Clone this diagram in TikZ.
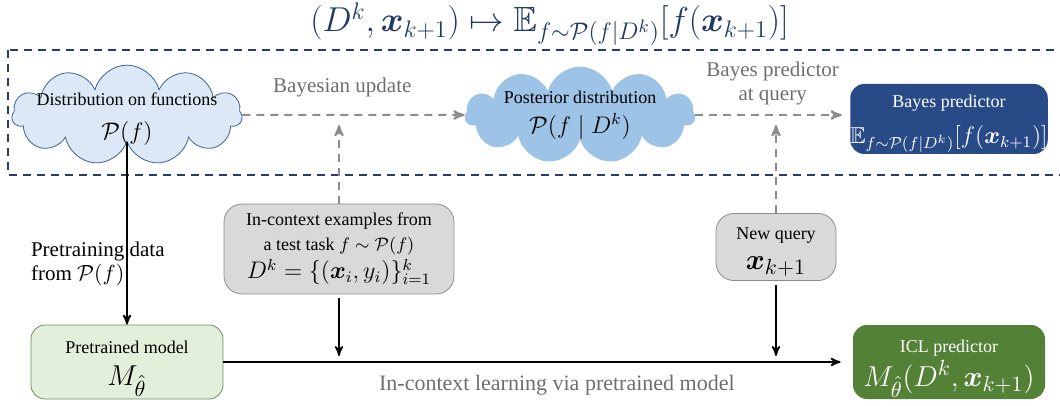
\documentclass[tikz,border=0pt]{standalone}
\usepackage{amsmath}
\usepackage{amssymb}
\usepackage[no-math]{fontspec}
\setmainfont{Liberation Serif}
\usepackage{tikz}
\usetikzlibrary{arrows}
\usetikzlibrary{shapes.symbols}
\usetikzlibrary{positioning,calc}
\definecolor{titlenavy}{RGB}{31,56,100}
\definecolor{boxnavy}{RGB}{40,74,134}
\definecolor{linenavy}{RGB}{38,62,108}
\definecolor{cloudlight}{RGB}{220,232,246}
\definecolor{cloudedge}{RGB}{62,98,144}
\definecolor{cloudpost}{RGB}{157,195,230}
\definecolor{flowgray}{RGB}{140,140,140}
\definecolor{labelgray}{RGB}{110,110,110}
\definecolor{boxgray}{RGB}{217,217,217}
\definecolor{boxgrayedge}{RGB}{140,140,140}
\definecolor{greenlight}{RGB}{226,239,218}
\definecolor{greenedge}{RGB}{112,143,90}
\definecolor{greendark}{RGB}{83,129,53}
\newcommand{\mathsz}[2]{{\fontsize{#1}{#1}\selectfont$#2$}}
\newcommand{\topstrut}[1]{\rule{0pt}{#1}}
\tikzset{
	every node/.style={font=\fontsize{9}{11}\selectfont}
}
\tikzset{
	dist cloud/.style={cloud,cloud puffs=11,cloud ignores aspect,minimum width=115pt,minimum height=45pt,inner sep=0pt,align=center},
	pred box/.style={rounded corners=7pt,minimum width=96pt,minimum height=37pt,inner sep=0pt,align=center},
	data box/.style={rounded corners=9pt,fill=boxgray,draw=boxgrayedge,inner sep=2pt,align=center},
	edge label/.style={font=\fontsize{10.5}{12}\selectfont,text=labelgray,align=center}
}
\tikzset{
	>=stealth',solid flow/.style={->,thick,black},
	query flow/.style={->,line width=1pt,flowgray,dash pattern=on 4pt off 3pt}
}

\begin{document}
\begin{tikzpicture}[x=0.5pt,y=-0.5pt]
      \useasboundingbox (0,0) rectangle (1060,406);
      \draw[linenavy,line width=1pt,dash pattern=on 4pt off 3pt] (8,50) rectangle (1064,175);
      \node[font=\fontsize{17.5}{20}\selectfont,text=titlenavy,anchor=west,inner sep=0pt] (map) at (310,24) {$(D^k,\boldsymbol{x}_{k+1})\mapsto\mathbb{E}_{f\sim\mathcal{P}(f|D^k)}[f(\boldsymbol{x}_{k+1})]$};
      \node[dist cloud,fill=cloudlight,draw=cloudedge] (prior) at (127,115) {\makebox[0pt]{\topstrut{11pt}Distribution on functions}\\[6pt]\mathsz{12}{\mathcal{P}(f)}};
      \node[dist cloud,fill=cloudpost] (post) at (580,115) {\makebox[0pt]{Posterior distribution}\\[4pt]\mathsz{12}{\mathcal{P}(f\mid D^k)}};
      \node[pred box,fill=boxnavy,text=white,minimum height=35pt] (bayes) at (949,119) {\topstrut{11pt}Bayes predictor\\[7pt]\mathsz{11.5}{\mathbb{E}_{f\sim\mathcal{P}(f|D^k)}[f(\boldsymbol{x}_{k+1})]}};
      \node[data box,minimum width=115pt,minimum height=45pt] (examples) at (339,249) {In-context examples from\\[1.5pt]a test task $f\sim\mathcal{P}(f)$\\[1pt]\mathsz{11.5}{D^k=\{(\boldsymbol{x}_i,y_i)\}_{i=1}^k}};
      \node[data box,minimum width=60pt,minimum height=32pt] (query) at (776,247) {\topstrut{11pt}New query\\[4pt]\mathsz{15}{\boldsymbol{x}_{k+1}}};
      \node[pred box,fill=greenlight,draw=greenedge] (pretrained) at (127,362) {\topstrut{13pt}Pretrained model\\[5pt]\mathsz{15}{M_{\hat\theta}}};
      \node[pred box,fill=greendark,text=white] (icl) at (949,362) {\topstrut{13pt}ICL predictor\\[1pt]\mathsz{15}{M_{\hat\theta}(D^k,\boldsymbol{x}_{k+1})}};
      \node[edge label,anchor=west,align=left,text=black] (pretrainlabel) at (24,264) {Pretraining data\\from $\mathcal{P}(f)$};
      \path[query flow] (prior) edge node[edge label,above=5pt,pos=0.45] {Bayesian update} (post);
      \path[query flow] (post.east) edge[shorten >=4pt] node[edge label,above=1pt] {Bayes predictor\\at query} (post.east -| bayes.west);
      \path[query flow] (examples.north) edge[shorten >=5pt] (examples.north |- prior.east);
      \path[query flow] (query.north) edge[shorten >=5pt] (query.north |- post.east);
      \path[solid flow] (prior.south) edge (prior.south |- pretrained.north);
      \path[solid flow] (pretrained.east) edge[shorten >=6pt] node[edge label,below=3pt,pos=0.53,font=\fontsize{11}{12}\selectfont] {In-context learning via pretrained model} (icl.west);
      \path[solid flow] (examples.south) edge[shorten <=2pt,shorten >=3pt] (examples.south |- pretrained.east);
      \path[solid flow] (query.south) edge[shorten <=2pt,shorten >=3pt] (query.south |- pretrained.east);
    \end{tikzpicture}
\end{document}
